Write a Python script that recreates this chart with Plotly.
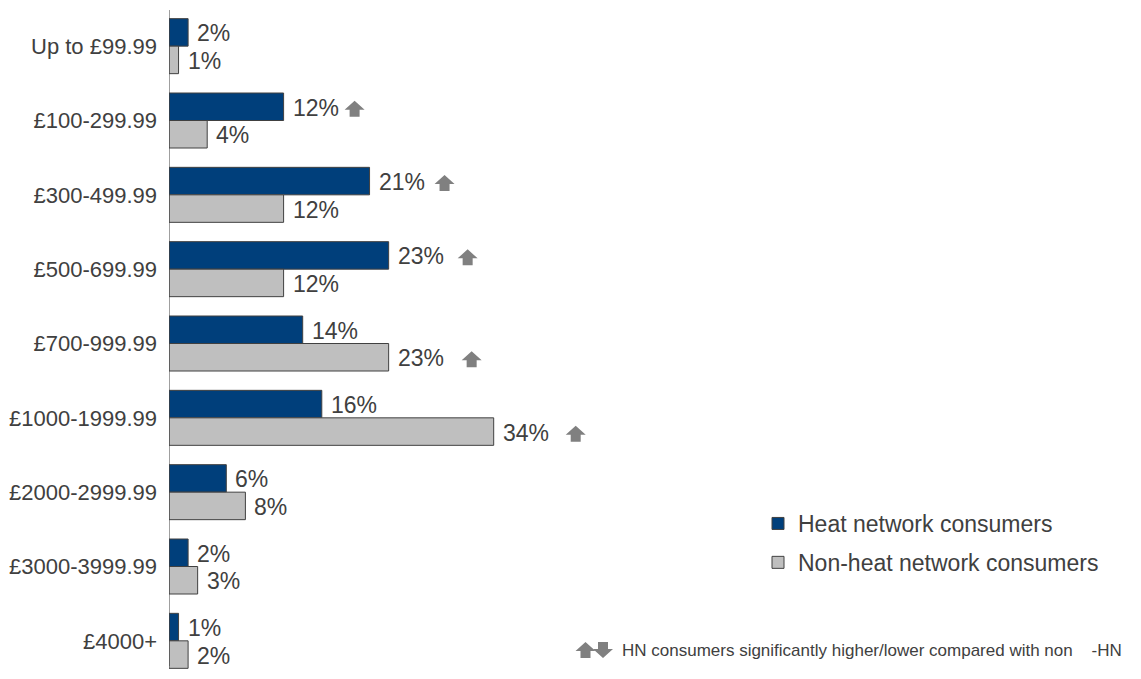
import plotly.graph_objects as go

categories = ["Up to £99.99", "£100-299.99", "£300-499.99", "£500-699.99", "£700-999.99",
              "£1000-1999.99", "£2000-2999.99", "£3000-3999.99", "£4000+"]
heat = [2, 12, 21, 23, 14, 16, 6, 2, 1]
non_heat = [1, 4, 12, 12, 23, 34, 8, 3, 2]
heat_sig_up = [False, True, True, True, False, False, False, False, False]
non_sig_up = [False, False, False, False, True, True, False, False, False]
series_names = ["Heat network consumers", "Non-heat network consumers"]
footnote = "HN consumers significantly higher/lower compared with non    -HN"

# arrow horizontal offsets (pixels right of bar end), per category
heat_arrow_off = [0, 71, 75, 79, 0, 0, 0, 0, 0]
non_arrow_off = [0, 0, 0, 0, 83, 82, 0, 0, 0]

HEAT_COL = "#003F7B"
NON_COL = "#BFBFBF"
TXT = "#404040"
ARROW = "#808080"
FONT = "Liberation Sans, Arial, sans-serif"

W, H = 1141, 679
ML, MR, MT, MB = 169, 0, 9, 1
PX_PER_UNIT = 9.55
plot_w = W - ML - MR
plot_h = H - MT - MB
xmax = plot_w / PX_PER_UNIT

fig = go.Figure()
fig.add_trace(go.Bar(y=categories, x=heat, orientation="h", name=series_names[0],
                     marker=dict(color=HEAT_COL, line=dict(color="#404040", width=1)),
                     legendgroup="a"))
fig.add_trace(go.Bar(y=categories, x=non_heat, orientation="h", name=series_names[1],
                     marker=dict(color=NON_COL, line=dict(color="#404040", width=1)),
                     legendgroup="b"))

BAR_SHIFT = 13.8
up_path = "M -10 0 L 0 9 L 10 0 L 5 0 L 5 -7 L -5 -7 L -5 0 Z"
down_path = "M -10 0 L 0 -9 L 10 0 L 5 0 L 5 7 L -5 7 L -5 0 Z"


def transform(path, dx, dy):
    toks = path.split()
    out = []
    i = 0
    while i < len(toks):
        t = toks[i]
        if t in ("M", "L"):
            out += [t, str(float(toks[i + 1]) + dx), str(float(toks[i + 2]) + dy)]
            i += 3
        else:
            out.append(t)
            i += 1
    return " ".join(out)


annotations = []
shapes = []
for vals, sig, offs, shift in [(heat, heat_sig_up, heat_arrow_off, BAR_SHIFT),
                               (non_heat, non_sig_up, non_arrow_off, -BAR_SHIFT)]:
    for i, (c, v) in enumerate(zip(categories, vals)):
        annotations.append(dict(x=v, y=c, text=f"{v}%", showarrow=False, xanchor="left",
                                xshift=7, yshift=shift - 1,
                                font=dict(size=23, color=TXT, family=FONT)))
        if sig[i]:
            shapes.append(dict(type="path", xref="x", yref="y", xsizemode="pixel",
                               ysizemode="pixel", xanchor=v, yanchor=c,
                               path=transform(up_path, offs[i], shift - 3),
                               fillcolor=ARROW, line=dict(width=0)))

# vertical axis line
shapes.append(dict(type="line", xref="x", yref="paper", x0=0, x1=0,
                   y0=(H - MB - 666) / plot_h, y1=(H - MB - 10) / plot_h,
                   line=dict(color="#404040", width=1)))

# footnote arrows and text
fy = (H - MB - 650) / plot_h
shapes.append(dict(type="path", xref="paper", yref="paper", xsizemode="pixel", ysizemode="pixel",
                   xanchor=(585.5 - ML) / plot_w, yanchor=fy, path=transform(up_path, 0, -1),
                   fillcolor=ARROW, line=dict(width=0)))
shapes.append(dict(type="path", xref="paper", yref="paper", xsizemode="pixel", ysizemode="pixel",
                   xanchor=(603 - ML) / plot_w, yanchor=fy, path=transform(down_path, 0, 1),
                   fillcolor=ARROW, line=dict(width=0)))
annotations.append(dict(x=(620 - ML) / plot_w, y=fy, xref="paper", yref="paper",
                        text=footnote, showarrow=False, xanchor="left", yanchor="middle",
                        font=dict(size=17, color=TXT, family=FONT)))

fig.update_layout(
    width=W, height=H,
    margin=dict(l=ML, r=MR, t=MT, b=MB),
    paper_bgcolor="white", plot_bgcolor="white",
    barmode="group", bargap=0.26, bargroupgap=0,
    font=dict(family=FONT, color=TXT),
    xaxis=dict(range=[0, xmax], visible=False, fixedrange=True),
    yaxis=dict(autorange="reversed", showline=False, showgrid=False, zeroline=False,
               ticks="", ticklabelstandoff=11,
               tickfont=dict(size=22, color=TXT, family=FONT)),
    legend=dict(x=(758 - ML) / plot_w, y=(H - MB - 502) / plot_h, xanchor="left", yanchor="top",
                font=dict(size=23, color=TXT, family=FONT), tracegroupgap=6,
                bgcolor="rgba(0,0,0,0)"),
    showlegend=True,
    annotations=annotations,
    shapes=shapes,
)

fig.write_html("out.html")
